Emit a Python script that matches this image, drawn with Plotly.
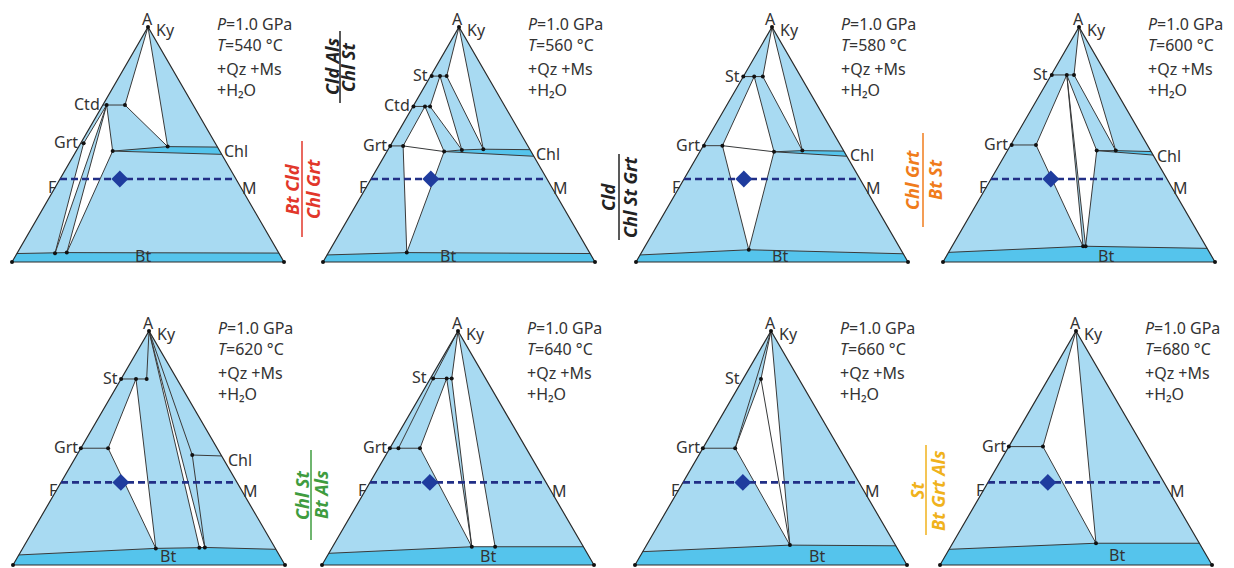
import plotly.graph_objects as go

# ---------------------------------------------------------------------------
# AFM projections (+Qz +Ms +H2O) at P = 1.0 GPa for a series of temperatures.
# Every phase node is given as (X_Mg across the F-M direction, A height),
# so m = 0 is the F edge, m = 1 the M edge, a = 1 the A apex.
# ---------------------------------------------------------------------------
TEMPS = [540, 560, 580, 600, 620, 640, 660, 680]
PRESSURE_GPA = 1.0
BULK_XMG = 0.34          # bulk-rock composition (diamond)
BULK_A = 0.353           # height of the F-M section through the bulk rock

NODES_540 = {
    "Ky": (0.5, 1.0),
    "CtdL": (0.0, 0.668), "Ctd1": (0.042, 0.668), "Ctd2": (0.245, 0.668),
    "GrtL": (0.0, 0.505), "Grt": (0.022, 0.505),
    "ChlFe": (0.254, 0.472), "Chl2": (0.642, 0.491), "ChlT": (1.0, 0.489), "ChlB": (1.0, 0.458),
    "BtL": (0.0, 0.036), "Bt1": (0.145, 0.037), "Bt2": (0.189, 0.040), "BtR": (1.0, 0.038),
}
WHITE_540 = [["Ky", "Ctd2", "Chl2"], ["Grt", "Ctd1", "Bt1"], ["Ctd1", "Bt2", "ChlFe"]]
LENS_540 = [["ChlFe", "Chl2", "ChlT", "ChlB"]]
TIES_540 = [["CtdL", "Ctd2"], ["GrtL", "Grt"], ["Ky", "Ctd2"], ["Ky", "Chl2"], ["Ctd2", "Chl2"],
            ["Ctd1", "ChlFe"], ["Ctd1", "Grt"], ["Ctd1", "Bt1"], ["Ctd1", "Bt2"], ["Grt", "Bt1"],
            ["ChlFe", "Bt2"], ["ChlFe", "Chl2", "ChlT"], ["ChlFe", "ChlB"]]
BTLINE_540 = ["BtL", "Bt1", "Bt2", "BtR"]
DOTS_540 = ["Ky", "Ctd1", "Ctd2", "Grt", "ChlFe", "Chl2", "Bt1", "Bt2"]
EDGE_LABELS_540 = [("Ctd", "CtdL"), ("Grt", "GrtL")]
CHL_AT_540 = "ChlT"

NODES_560 = {
    "Ky": (0.5, 1.0),
    "StL": (0.0, 0.791), "St1": (0.02, 0.791), "St2": (0.166, 0.791), "St3": (0.283, 0.791),
    "CtdL": (0.0, 0.662), "Ctd1": (0.005, 0.662), "Ctd2": (0.13, 0.662), "Ctd3": (0.185, 0.662),
    "Grt1": (0.0, 0.494), "Grt2": (0.094, 0.494),
    "ChlFe": (0.397, 0.470), "Chl2": (0.52, 0.477), "Chl3": (0.672, 0.480),
    "ChlT": (1.0, 0.478), "ChlB": (1.0, 0.450),
    "BtL": (0.0, 0.030), "Bt": (0.30, 0.040), "BtR": (1.0, 0.036),
}
WHITE_560 = [["Ky", "St3", "Chl3"], ["St2", "Ctd3", "Chl2"], ["Ctd2", "Grt2", "ChlFe"],
             ["Grt2", "ChlFe", "Bt"]]
LENS_560 = [["ChlFe", "Chl2", "Chl3", "ChlT", "ChlB"]]
TIES_560 = [["StL", "St3"], ["CtdL", "Ctd3"], ["Grt1", "Grt2"], ["Ky", "St3"], ["Ky", "Chl3"],
            ["St3", "Chl3"], ["St2", "Chl2"], ["St2", "Ctd3"], ["Ctd3", "Chl2"], ["Ctd2", "ChlFe"],
            ["Ctd2", "Grt2"], ["Grt2", "ChlFe"], ["Grt2", "Bt"], ["ChlFe", "Bt"],
            ["ChlFe", "Chl2", "Chl3", "ChlT"], ["ChlFe", "ChlB"]]
BTLINE_560 = ["BtL", "Bt", "BtR"]
DOTS_560 = ["Ky", "St1", "St2", "St3", "Ctd1", "Ctd2", "Ctd3", "Grt1", "Grt2",
            "ChlFe", "Chl2", "Chl3", "Bt"]
EDGE_LABELS_560 = [("St", "StL"), ("Ctd", "CtdL"), ("Grt", "Grt1")]
CHL_AT_560 = "ChlT"

NODES_580 = {
    "Ky": (0.5, 1.0),
    "St1": (0.0, 0.789), "St2": (0.19, 0.789), "St3": (0.34, 0.789),
    "GrtL": (0.0, 0.495), "Grt1": (0.005, 0.495), "Grt2": (0.139, 0.495),
    "ChlFe": (0.514, 0.469), "Chl2": (0.712, 0.474), "ChlT": (1.0, 0.472), "ChlB": (1.0, 0.450),
    "BtL": (0.0, 0.030), "Bt": (0.41, 0.052), "BtR": (1.0, 0.035),
}
WHITE_580 = [["Ky", "St3", "Chl2"], ["St2", "Grt2", "ChlFe"], ["Grt2", "ChlFe", "Bt"]]
LENS_580 = [["ChlFe", "Chl2", "ChlT", "ChlB"]]
TIES_580 = [["St1", "St3"], ["GrtL", "Grt2"], ["Ky", "St3"], ["Ky", "Chl2"], ["St3", "Chl2"],
            ["St2", "ChlFe"], ["St2", "Grt2"], ["Grt2", "ChlFe"], ["Grt2", "Bt"], ["ChlFe", "Bt"],
            ["ChlFe", "Chl2", "ChlT"], ["ChlFe", "ChlB"]]
BTLINE_580 = ["BtL", "Bt", "BtR"]
DOTS_580 = ["Ky", "St1", "St2", "St3", "Grt1", "Grt2", "ChlFe", "Chl2", "Bt"]
EDGE_LABELS_580 = [("St", "St1"), ("Grt", "GrtL")]
CHL_AT_580 = "ChlT"

NODES_600 = {
    "Ky": (0.5, 1.0),
    "StL": (0.0, 0.796), "St1": (0.01, 0.796), "St2": (0.28, 0.796), "St3": (0.41, 0.796),
    "GrtL": (0.0, 0.498), "Grt1": (0.007, 0.498), "Grt2": (0.185, 0.498),
    "ChlFe": (0.624, 0.474), "Chl2": (0.757, 0.474), "ChlT": (1.0, 0.470), "ChlB": (1.0, 0.455),
    "BtL": (0.0, 0.041), "Bt1": (0.516, 0.067), "Bt2": (0.526, 0.067), "BtR": (1.0, 0.058),
}
WHITE_600 = [["Ky", "St3", "Chl2"], ["St2", "ChlFe", "Bt2"], ["St2", "Grt2", "Bt1"]]
LENS_600 = [["ChlFe", "Chl2", "ChlT", "ChlB"]]
TIES_600 = [["StL", "St3"], ["GrtL", "Grt2"], ["Ky", "St3"], ["Ky", "Chl2"], ["St3", "Chl2"],
            ["St2", "ChlFe"], ["St2", "Bt1"], ["St2", "Bt2"], ["St2", "Grt2"], ["Grt2", "Bt1"],
            ["ChlFe", "Bt2"], ["ChlFe", "Chl2", "ChlT"], ["ChlFe", "ChlB"]]
BTLINE_600 = ["BtL", "Bt1", "Bt2", "BtR"]
DOTS_600 = ["Ky", "St1", "St2", "St3", "Grt1", "Grt2", "ChlFe", "Chl2", "Bt1", "Bt2"]
EDGE_LABELS_600 = [("St", "StL"), ("Grt", "GrtL")]
CHL_AT_600 = "ChlT"

NODES_620 = {
    "Ky": (0.5, 1.0),
    "St1": (0.0, 0.795), "St2": (0.267, 0.795), "St3": (0.458, 0.795),
    "Grt1": (0.0, 0.499), "Grt2": (0.20, 0.499),
    "Chl": (0.80, 0.470), "ChlR": (1.0, 0.466),
    "BtL": (0.0, 0.043), "Bt1": (0.527, 0.071), "Bt2": (0.70, 0.074), "Bt3": (0.722, 0.075),
    "BtR": (1.0, 0.067),
}
WHITE_620 = [["St2", "Grt2", "Bt1"], ["Ky", "Bt2", "Bt3"]]
LENS_620 = []
TIES_620 = [["St1", "St3"], ["Grt1", "Grt2"], ["St2", "Grt2"], ["Grt2", "Bt1"], ["St2", "Bt1"],
            ["Ky", "St3"], ["Ky", "Bt2"], ["Ky", "Bt3"], ["Ky", "Chl"],
            ["Chl", "Bt3"], ["Chl", "ChlR"]]
BTLINE_620 = ["BtL", "Bt1", "Bt2", "Bt3", "BtR"]
DOTS_620 = ["Ky", "St1", "St2", "St3", "Grt1", "Grt2", "Chl", "Bt1", "Bt2", "Bt3"]
EDGE_LABELS_620 = [("St", "St1"), ("Grt", "Grt1")]
CHL_AT_620 = "ChlR"

NODES_640 = {
    "Ky": (0.5, 1.0),
    "StL": (0.0, 0.797), "St1": (0.05, 0.797), "St2": (0.295, 0.797), "St3": (0.386, 0.797),
    "Grt1": (0.0, 0.499), "Grt2": (0.063, 0.499), "Grt3": (0.221, 0.499),
    "BtL": (0.0, 0.050), "Bt1": (0.555, 0.078), "Bt2": (0.648, 0.078), "BtR": (1.0, 0.078),
}
WHITE_640 = [["St2", "Grt3", "Bt1"], ["Ky", "St3", "Bt1", "Bt2"]]
LENS_640 = []
TIES_640 = [["Ky", "St1", "Grt2"], ["St1", "St3"], ["St2", "Grt3"], ["Grt1", "Grt3"],
            ["Grt3", "Bt1"], ["St2", "Bt1"], ["St3", "Bt1"], ["Ky", "St3"], ["Ky", "Bt2"]]
BTLINE_640 = ["BtL", "Bt1", "Bt2", "BtR"]
DOTS_640 = ["Ky", "St1", "St2", "St3", "Grt1", "Grt2", "Grt3", "Bt1", "Bt2"]
EDGE_LABELS_640 = [("St", "StL"), ("Grt", "Grt1")]
CHL_AT_640 = None

NODES_660 = {
    "Ky": (0.5, 1.0),
    "StL": (0.0, 0.795), "St": (0.32, 0.795),
    "Grt1": (0.0, 0.499), "Grt2": (0.237, 0.499),
    "BtL": (0.0, 0.057), "Bt": (0.576, 0.085), "BtR": (1.0, 0.082),
}
WHITE_660 = [["St", "Grt2", "Bt"], ["Ky", "St", "Bt"]]
LENS_660 = []
TIES_660 = [["Ky", "Grt2"], ["St", "Grt2"], ["Ky", "St"], ["St", "Bt"], ["Ky", "Bt"],
            ["Grt1", "Grt2"], ["Grt2", "Bt"]]
BTLINE_660 = ["BtL", "Bt", "BtR"]
DOTS_660 = ["Ky", "St", "Grt1", "Grt2", "Bt"]
EDGE_LABELS_660 = [("St", "StL"), ("Grt", "Grt1")]
CHL_AT_660 = None

NODES_680 = {
    "Ky": (0.5, 1.0),
    "Grt1": (0.0, 0.506), "Grt2": (0.254, 0.506),
    "BtL": (0.0, 0.067), "Bt": (0.581, 0.093), "BtR": (1.0, 0.093),
}
WHITE_680 = [["Ky", "Grt2", "Bt"]]
LENS_680 = []
TIES_680 = [["Ky", "Grt2"], ["Grt2", "Bt"], ["Ky", "Bt"], ["Grt1", "Grt2"]]
BTLINE_680 = ["BtL", "Bt", "BtR"]
DOTS_680 = ["Ky", "Grt1", "Grt2", "Bt"]
EDGE_LABELS_680 = [("Grt", "Grt1")]
CHL_AT_680 = None

# Reactions crossed between neighbouring diagrams: (reactants, products)
REACTIONS = [
    ("Bt Cld", "Chl Grt"),
    ("Cld Als", "Chl St"),
    ("Cld", "Chl St Grt"),
    ("Chl Grt", "Bt St"),
    ("Chl St", "Bt Als"),
    ("St", "Bt Grt Als"),
]

# ---------------------------------------------------------------------------
# Page layout (pixels)
# ---------------------------------------------------------------------------
W_PAGE, H_PAGE = 1234, 568
TRI_W = 272
PANEL_LEFT = [12, 323, 636, 943, 13, 322, 635, 940]
PANEL_BASE = [262, 262, 262, 262, 565, 565, 565, 565]
PANEL_H = [235, 235, 235, 235, 234, 234, 234, 234]
BT_LABEL_X = [0.48, 0.46, 0.53, 0.60, 0.57, 0.61, 0.67, 0.65]
BT_LABEL_SHIFT = [1, 1, 1, 1, 4, 4, 4, 5]
XR = (-0.02, 1.02)
YR = (-0.01, 1.05)

# reaction labels: x of numerator, bar, denominator; y centre; bar half length; colour
REACTION_STYLE = [
    (292, 302, 313, 189, 48, "#e2372b"),
    (332, 340, 348, 67, 36, "#222222"),
    (608, 619, 630, 197, 43, "#222222"),
    (912, 923, 935, 180, 47, "#f07c1c"),
    (302, 311, 321, 495, 45, "#3f9c3f"),
    (917, 926, 938, 490, 45, "#f0b21c"),
]

LIGHT = "#a8daf2"
DARK = "#55c4ec"
EDGE = "#3a3a3a"
NAVY = "#222f86"
DIAMOND = "#1f3c9e"
FONT = "Noto Sans"
TEXT = "#333333"

PANELS = [
    (NODES_540, WHITE_540, LENS_540, TIES_540, BTLINE_540, DOTS_540, EDGE_LABELS_540, CHL_AT_540),
    (NODES_560, WHITE_560, LENS_560, TIES_560, BTLINE_560, DOTS_560, EDGE_LABELS_560, CHL_AT_560),
    (NODES_580, WHITE_580, LENS_580, TIES_580, BTLINE_580, DOTS_580, EDGE_LABELS_580, CHL_AT_580),
    (NODES_600, WHITE_600, LENS_600, TIES_600, BTLINE_600, DOTS_600, EDGE_LABELS_600, CHL_AT_600),
    (NODES_620, WHITE_620, LENS_620, TIES_620, BTLINE_620, DOTS_620, EDGE_LABELS_620, CHL_AT_620),
    (NODES_640, WHITE_640, LENS_640, TIES_640, BTLINE_640, DOTS_640, EDGE_LABELS_640, CHL_AT_640),
    (NODES_660, WHITE_660, LENS_660, TIES_660, BTLINE_660, DOTS_660, EDGE_LABELS_660, CHL_AT_660),
    (NODES_680, WHITE_680, LENS_680, TIES_680, BTLINE_680, DOTS_680, EDGE_LABELS_680, CHL_AT_680),
]


def afm_xy(node):
    """(X_Mg, A) -> cartesian position inside the unit triangle."""
    m, a = node
    return 0.5 * a + m * (1.0 - a), a


def path(nodes, names, close=False):
    pts = [afm_xy(nodes[n]) for n in names]
    if close:
        pts.append(pts[0])
    return [p[0] for p in pts], [p[1] for p in pts]


fig = go.Figure()
annotations = []
shapes = []
layout_axes = {}

for i, (temp, panel) in enumerate(zip(TEMPS, PANELS)):
    nodes, whites, lenses, ties, btline, dots, edge_labels, chl_at = panel
    sfx = "" if i == 0 else str(i + 1)
    xa, ya = "x" + sfx, "y" + sfx
    L, B, H = PANEL_LEFT[i], PANEL_BASE[i], PANEL_H[i]
    layout_axes["xaxis" + sfx] = dict(
        domain=[(L + XR[0] * TRI_W) / W_PAGE, (L + XR[1] * TRI_W) / W_PAGE],
        range=list(XR), visible=False, fixedrange=True, anchor=ya)
    layout_axes["yaxis" + sfx] = dict(
        domain=[(H_PAGE - B + YR[0] * H) / H_PAGE, (H_PAGE - B + YR[1] * H) / H_PAGE],
        range=list(YR), visible=False, fixedrange=True, anchor=xa)

    common = dict(xaxis=xa, yaxis=ya, hoverinfo="skip", showlegend=False, cliponaxis=False)

    # two-phase fields (background of the whole AFM triangle)
    fig.add_trace(go.Scatter(x=[0, 1, 0.5, 0], y=[0, 0, 1, 0], mode="lines", fill="toself",
                             fillcolor=LIGHT, line=dict(width=0), **common))
    # three-phase fields
    for poly in whites:
        px, py = path(nodes, poly, close=True)
        fig.add_trace(go.Scatter(x=px, y=py, mode="lines", fill="toself", fillcolor="white",
                                 line=dict(width=0), **common))
    # one-phase fields: biotite band and chlorite lens
    bx, by = path(nodes, btline)
    bx += [1.0, 0.0, bx[0]]
    by += [0.0, 0.0, by[0]]
    fig.add_trace(go.Scatter(x=bx, y=by, mode="lines", fill="toself", fillcolor=DARK,
                             line=dict(width=0), **common))
    for poly in lenses:
        px, py = path(nodes, poly, close=True)
        fig.add_trace(go.Scatter(x=px, y=py, mode="lines", fill="toself", fillcolor=DARK,
                                 line=dict(width=0), **common))

    # tie lines and field boundaries
    lx, ly = [], []
    for seg in ties + [btline]:
        px, py = path(nodes, seg)
        lx += px + [None]
        ly += py + [None]
    fig.add_trace(go.Scatter(x=lx, y=ly, mode="lines", line=dict(color=EDGE, width=1), **common))

    # triangle outline
    fig.add_trace(go.Scatter(x=[0, 0.5, 1, 0], y=[0, 1, 0, 0], mode="lines",
                             line=dict(color="#2b2b2b", width=1.2), **common))

    # F-M section through the bulk composition
    fx0, _ = afm_xy((0.0, BULK_A))
    fx1, _ = afm_xy((1.0, BULK_A))
    fig.add_trace(go.Scatter(x=[fx0, fx1], y=[BULK_A, BULK_A], mode="lines",
                             line=dict(color=NAVY, width=2.6, dash="7px,4px"), **common))

    # phase compositions
    dx, dy = path(nodes, dots)
    dx += [0.0, 1.0]
    dy += [0.0, 0.0]
    fig.add_trace(go.Scatter(x=dx, y=dy, mode="markers",
                             marker=dict(color="#111111", size=4), **common))

    # bulk rock
    bxk, byk = afm_xy((BULK_XMG, BULK_A))
    fig.add_trace(go.Scatter(x=[bxk], y=[byk], mode="markers",
                             marker=dict(symbol="diamond", color=DIAMOND, size=13,
                                         line=dict(width=0)), **common))

    def ann(x, y, text, **kw):
        d = dict(x=x, y=y, xref=xa, yref=ya, text=text, showarrow=False,
                 font=dict(family=FONT, size=16, color=TEXT))
        d.update(kw)
        annotations.append(d)

    ann(0.5, 1.0, "A", yshift=8, xshift=-1, yanchor="middle")
    ann(0.5, 1.0, "Ky", xanchor="left", xshift=6, yshift=-3)
    for label, node in edge_labels:
        ex, ey = afm_xy(nodes[node])
        ann(ex, ey, label, xanchor="right", xshift=-1, yshift=1)
    if chl_at is not None:
        cx, cy = afm_xy(nodes[chl_at])
        ann(cx, cy, "Chl", xanchor="left", xshift=4, yshift=-4)
    ann(fx0, BULK_A, "F", xanchor="right", xshift=-2, yshift=-8)
    ann(fx1, BULK_A, "M", xanchor="left", xshift=4, yshift=-9)
    ann(BT_LABEL_X[i], 0.02, "Bt", yshift=BT_LABEL_SHIFT[i])

    tx = 0.5 + 67 / TRI_W
    ann(tx, 1 - 8 / H, f"<i>P</i>={PRESSURE_GPA:.1f} GPa<br><i>T</i>={temp} °C",
        xanchor="left", yanchor="middle", align="left")
    ann(tx, 1 - 53 / H, "+Qz +Ms<br>+H₂O", xanchor="left", yanchor="middle", align="left")

# reaction labels between diagrams
for (num, den), (xn, xb, xd, yc, half, col) in zip(REACTIONS, REACTION_STYLE):
    f = dict(family=FONT, size=18, color=col)
    for xx, txt in ((xn, num), (xd, den)):
        annotations.append(dict(x=xx / W_PAGE, y=1 - yc / H_PAGE, xref="paper", yref="paper",
                                text=f"<b><i>{txt}</i></b>", showarrow=False, textangle=-90,
                                font=f, xanchor="center", yanchor="middle"))
    shapes.append(dict(type="line", xref="paper", yref="paper",
                       x0=xb / W_PAGE, x1=xb / W_PAGE,
                       y0=1 - (yc - half) / H_PAGE, y1=1 - (yc + half) / H_PAGE,
                       line=dict(color=col, width=1.5)))

fig.update_layout(
    width=W_PAGE, height=H_PAGE, margin=dict(l=0, r=0, t=0, b=0),
    paper_bgcolor="white", plot_bgcolor="rgba(0,0,0,0)",
    annotations=annotations, shapes=shapes, showlegend=False,
    **layout_axes,
)

fig.write_html("out.html", config={"displayModeBar": False})
